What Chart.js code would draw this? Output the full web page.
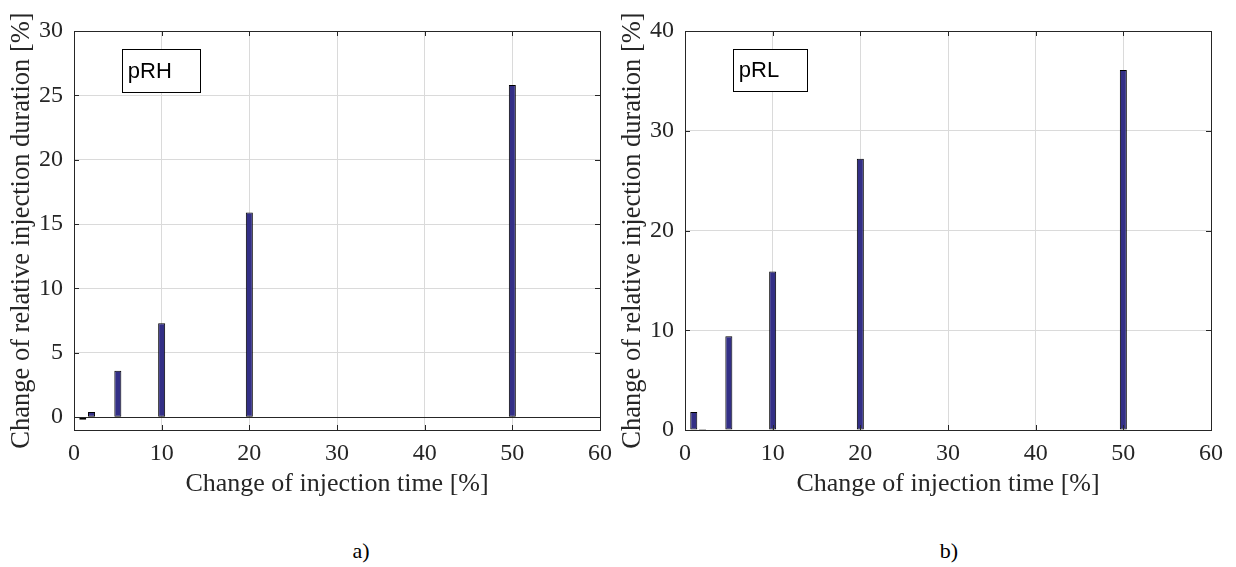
<!DOCTYPE html>
<html>
<head>
<meta charset="utf-8">
<script src="https://cdn.jsdelivr.net/npm/chart.js"></script>
<style>
  body { margin: 0; background: #fff; width: 1236px; height: 567px; position: relative; overflow: hidden; }
  .box { position: absolute; top: 0; height: 520px; }
  .cap { position: absolute; top: 538px; font: 22px "Liberation Serif", serif; color: #000; transform: translateX(-50%); }
</style>
</head>
<body>
<div class="box" style="left:0;width:621px"><canvas id="chartA"></canvas></div>
<div class="box" style="left:611px;width:625px"><canvas id="chartB"></canvas></div>
<div class="cap" style="left:361px">a)</div>
<div class="cap" style="left:949px">b)</div>
<script>
// injection time change [%] on the x axis
var injTime = [1, 2, 5, 10, 20, 50];

// a) pRH
var durationRH = [-0.2, 0.4, 3.6, 7.3, 15.9, 25.8];
// b) pRL
var durationRL = [1.8, 0.1, 9.4, 15.9, 27.2, 36.1];

var xTicks = [0, 10, 20, 30, 40, 50, 60];
var yTicksRH = [0, 5, 10, 15, 20, 25, 30];
var yTicksRL = [0, 10, 20, 30, 40];

var serif = '"Liberation Serif", "Times New Roman", serif';
var axisColor = '#262626';
var gridColor = '#dadada';

// axes box, inner ticks, zero line and the label box like in matlab
var matlabBox = {
    id: 'matlabBox',
    afterDatasetsDraw: function(chart, args, opts) {
        var c = chart.ctx, a = chart.chartArea;
        var xs = chart.scales.x, ys = chart.scales.y;
        c.save();
        c.strokeStyle = axisColor;
        c.lineWidth = 1;
        c.beginPath();
        xs.ticks.forEach(function(t) {
            var px = Math.round(xs.getPixelForValue(t.value)) + 0.5;
            c.moveTo(px, a.bottom); c.lineTo(px, a.bottom - 5);
            c.moveTo(px, a.top); c.lineTo(px, a.top + 5);
        });
        ys.ticks.forEach(function(t) {
            var py = Math.round(ys.getPixelForValue(t.value)) + 0.5;
            c.moveTo(a.left, py); c.lineTo(a.left + 5, py);
            c.moveTo(a.right, py); c.lineTo(a.right - 5, py);
        });
        c.stroke();
        // zero baseline
        var y0 = Math.round(ys.getPixelForValue(0)) + 0.5;
        c.beginPath();
        c.moveTo(a.left, y0); c.lineTo(a.right, y0);
        c.stroke();
        c.strokeRect(Math.round(a.left) + 0.5, Math.round(a.top) + 0.5,
            Math.round(a.right - a.left), Math.round(a.bottom - a.top));
        // text label
        var bx = a.left + opts.fx * (a.right - a.left);
        var by = a.top + opts.fy * (a.bottom - a.top);
        var bw = opts.fw * (a.right - a.left);
        var bh = opts.fh * (a.bottom - a.top);
        c.fillStyle = '#fff';
        c.fillRect(bx, by, bw, bh);
        c.strokeStyle = '#000';
        c.strokeRect(Math.round(bx) + 0.5, Math.round(by) + 0.5, Math.round(bw), Math.round(bh));
        c.fillStyle = '#000';
        c.font = '22px "Liberation Sans", Arial, sans-serif';
        c.textBaseline = 'middle';
        c.textAlign = 'left';
        c.fillText(opts.text, bx + 6, by + bh / 2 + 1);
        c.restore();
    }
};

function makeChart(id, values, yMin, yMax, yTicks, label, padRight, box) {
    var points = injTime.map(function(x, i) { return { x: x, y: values[i] }; });
    return new Chart(document.getElementById(id), {
        type: 'bar',
        data: {
            datasets: [{
                label: label,
                data: points,
                backgroundColor: '#332f86',
                borderColor: '#000',
                borderWidth: 1,
                borderSkipped: false,
                barPercentage: 0.8,
                categoryPercentage: 1.0
            }]
        },
        options: {
            responsive: true,
            maintainAspectRatio: false,
            animation: false,
            layout: { padding: { top: 31, right: padRight, left: 0, bottom: 0 } },
            plugins: {
                legend: { display: false },
                tooltip: { enabled: false },
                matlabBox: box
            },
            scales: {
                x: {
                    type: 'linear',
                    min: 0, max: 60,
                    offset: false,
                    afterBuildTicks: function(s) { s.ticks = xTicks.map(function(v) { return { value: v }; }); },
                    afterFit: function(s) { s.height = 90; },
                    grid: { color: gridColor, drawTicks: false, offset: false },
                    border: { display: false },
                    ticks: { font: { family: serif, size: 24 }, color: axisColor, padding: 9, maxRotation: 0 },
                    title: {
                        display: true,
                        text: 'Change of injection time [%]',
                        font: { family: serif, size: 26 },
                        color: axisColor,
                        padding: { top: 0, bottom: 20 }
                    }
                },
                y: {
                    min: yMin, max: yMax,
                    afterBuildTicks: function(s) { s.ticks = yTicks.map(function(v) { return { value: v }; }); },
                    afterFit: function(s) { s.width = 74; },
                    grid: { color: gridColor, drawTicks: false },
                    border: { display: false },
                    ticks: { font: { family: serif, size: 24 }, color: axisColor, padding: 11 },
                    title: {
                        display: true,
                        text: 'Change of relative injection duration [%]',
                        font: { family: serif, size: 26.5 },
                        color: axisColor,
                        padding: { top: 6, bottom: 0 }
                    }
                }
            }
        },
        plugins: [matlabBox]
    });
}

makeChart('chartA', durationRH, -1, 30, yTicksRH, 'pRH', 21,
    { text: 'pRH', fx: 0.091, fy: 0.046, fw: 0.149, fh: 0.108 });
makeChart('chartB', durationRL, 0, 40, yTicksRL, 'pRL', 25,
    { text: 'pRL', fx: 0.091, fy: 0.046, fw: 0.14, fh: 0.105 });
</script>
</body>
</html>
